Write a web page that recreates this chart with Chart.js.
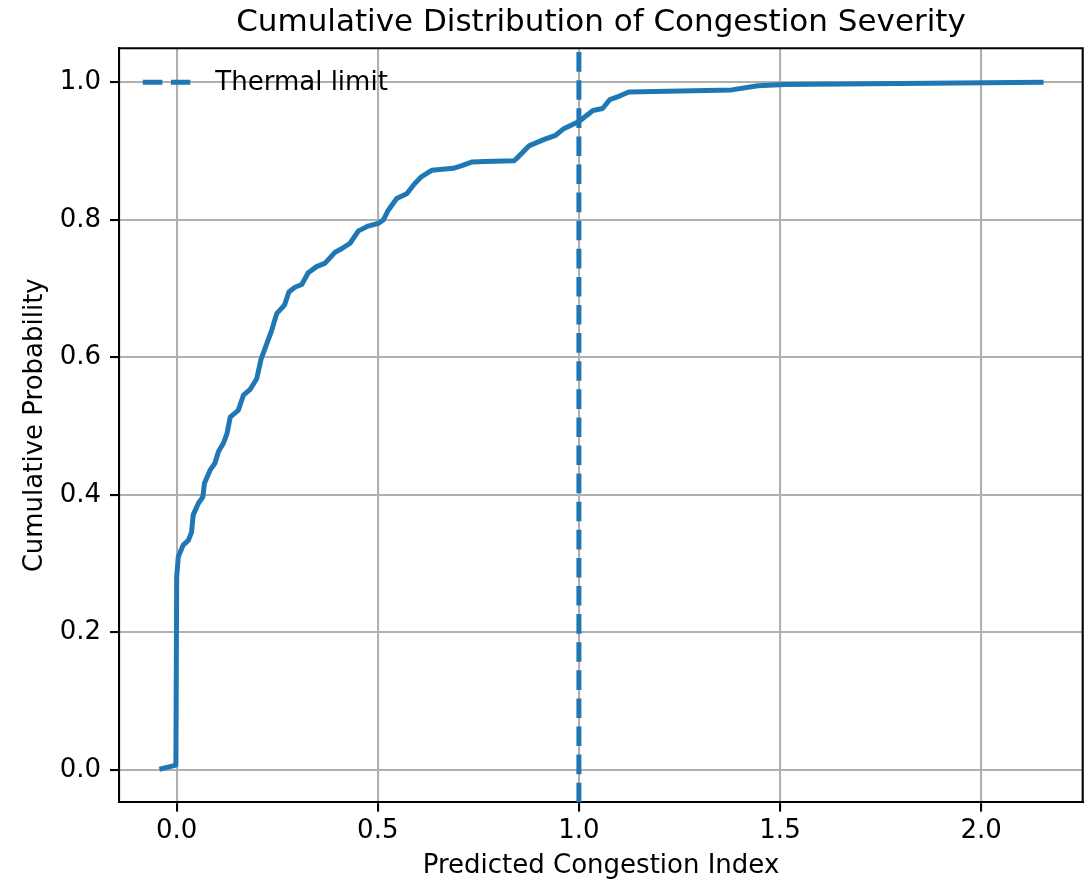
<!DOCTYPE html>
<html>
<head>
<meta charset="utf-8">
<script src="https://cdn.jsdelivr.net/npm/chart.js@4.4.1/dist/chart.umd.min.js"></script>
<style>
  html, body { margin: 0; padding: 0; background: #fff; }
  #wrap { width: 1087px; height: 879px; }
</style>
</head>
<body>
<div id="wrap"><canvas id="myChart" width="1087" height="879"></canvas></div>
<script>
const cdfX = [-0.037, -0.002, 0.0, 0.004, 0.016, 0.029, 0.037, 0.041, 0.054, 0.065, 0.069, 0.083,
  0.095, 0.104, 0.116, 0.125, 0.133, 0.153, 0.166, 0.182, 0.199, 0.210, 0.224, 0.236, 0.249,
  0.268, 0.279, 0.294, 0.311, 0.327, 0.348, 0.369, 0.394, 0.410, 0.431, 0.452, 0.476, 0.501,
  0.514, 0.526, 0.547, 0.572, 0.592, 0.609, 0.634, 0.688, 0.709, 0.733, 0.767, 0.839, 0.850,
  0.877, 0.914, 0.942, 0.961, 1.0, 1.035, 1.059, 1.077, 1.101, 1.124, 1.380, 1.445, 1.511,
  2.149];
const cdfY = [0.002, 0.007, 0.281, 0.310, 0.327, 0.334, 0.346, 0.371, 0.388, 0.397, 0.417, 0.436,
  0.446, 0.463, 0.475, 0.489, 0.513, 0.523, 0.545, 0.553, 0.569, 0.598, 0.620, 0.639, 0.664,
  0.676, 0.695, 0.702, 0.706, 0.723, 0.732, 0.737, 0.753, 0.758, 0.766, 0.784, 0.791, 0.795,
  0.800, 0.814, 0.831, 0.838, 0.853, 0.863, 0.872, 0.875, 0.879, 0.884, 0.885, 0.886, 0.892,
  0.908, 0.917, 0.923, 0.932, 0.943, 0.959, 0.962, 0.975, 0.980, 0.986, 0.989, 0.995, 0.997,
  1.0];
const thermalLimit = 1.0;
const xTicks = [0.0, 0.5, 1.0, 1.5, 2.0];
const yTicks = [0.0, 0.2, 0.4, 0.6, 0.8, 1.0];
const xRange = [-0.1427, 2.2526];
const yRange = [-0.047, 1.0495];

const blue = '#1f77b4';
const font = 'DejaVu Sans';
const dash = [19.6, 8.5];

const cdfPoints = cdfX.map((x, i) => ({x: x, y: cdfY[i]}));
const limitPoints = [{x: thermalLimit, y: yRange[0]}, {x: thermalLimit, y: yRange[1]}];

// top/right spines and the frameless legend
const framePlugin = {
  id: 'frame',
  afterDraw(chart) {
    const {ctx, chartArea: a} = chart;
    ctx.save();
    ctx.strokeStyle = '#000';
    ctx.lineWidth = 2.1;
    ctx.beginPath();
    ctx.moveTo(a.left, a.top);
    ctx.lineTo(a.right, a.top);
    ctx.lineTo(a.right, a.bottom);
    ctx.stroke();

    const ly = chart.scales.y.getPixelForValue(1.0);
    ctx.strokeStyle = blue;
    ctx.lineWidth = 5;
    ctx.setLineDash(dash);
    ctx.beginPath();
    ctx.moveTo(a.left + 23.5, ly);
    ctx.lineTo(a.left + 71, ly);
    ctx.stroke();
    ctx.setLineDash([]);
    ctx.fillStyle = '#000';
    ctx.font = '26px "' + font + '"';
    ctx.textBaseline = 'middle';
    ctx.fillText('Thermal limit', a.left + 96, ly + 1);
    ctx.restore();
  }
};

new Chart(document.getElementById('myChart').getContext('2d'), {
  type: 'scatter',
  data: {
    datasets: [
      {
        label: 'Thermal limit',
        data: limitPoints,
        showLine: true,
        borderColor: blue,
        borderWidth: 5,
        borderDash: dash,
        borderCapStyle: 'butt',
        pointRadius: 0,
        order: 0
      },
      {
        label: 'CDF',
        data: cdfPoints,
        showLine: true,
        borderColor: blue,
        borderWidth: 5,
        borderJoinStyle: 'round',
        borderCapStyle: 'square',
        pointRadius: 0,
        order: 1
      }
    ]
  },
  options: {
    responsive: false,
    animation: false,
    layout: { padding: { left: 0, right: 4.3, top: 0, bottom: 0 } },
    plugins: {
      legend: { display: false },
      tooltip: { enabled: false },
      title: {
        display: true,
        text: 'Cumulative Distribution of Congestion Severity',
        fullSize: false,
        color: '#000',
        font: { family: font, size: 31, weight: 'normal', lineHeight: 1.2 },
        padding: { top: 4.5, bottom: 6.6 }
      }
    },
    scales: {
      x: {
        type: 'linear',
        min: xRange[0],
        max: xRange[1],
        afterBuildTicks: s => { s.ticks = xTicks.map(v => ({value: v})); },
        afterFit: s => { s.height = 76.7; },
        ticks: {
          color: '#000',
          font: { family: font, size: 26 },
          padding: 4,
          maxRotation: 0,
          callback: v => v.toFixed(1)
        },
        grid: { color: '#b0b0b0', lineWidth: 2.1, tickLength: 9.3, tickColor: '#000', tickWidth: 2.1 },
        border: { display: true, color: '#000', width: 2.1 },
        title: {
          display: true,
          text: 'Predicted Congestion Index',
          color: '#000',
          font: { family: font, size: 26, lineHeight: 1.0 },
          padding: { top: 0, bottom: 0 }
        }
      },
      y: {
        type: 'linear',
        min: yRange[0],
        max: yRange[1],
        afterBuildTicks: s => { s.ticks = yTicks.map(v => ({value: v})); },
        afterFit: s => { s.width = 119.3; },
        ticks: {
          color: '#000',
          font: { family: font, size: 26 },
          padding: 9,
          callback: v => v.toFixed(1)
        },
        grid: { color: '#b0b0b0', lineWidth: 2.1, tickLength: 9.3, tickColor: '#000', tickWidth: 2.1 },
        border: { display: true, color: '#000', width: 2.1 },
        title: {
          display: true,
          text: 'Cumulative Probability',
          color: '#000',
          font: { family: font, size: 26, lineHeight: 1.2 },
          padding: { top: 19.5, bottom: 0 }
        }
      }
    }
  },
  plugins: [framePlugin]
});
</script>
</body>
</html>
